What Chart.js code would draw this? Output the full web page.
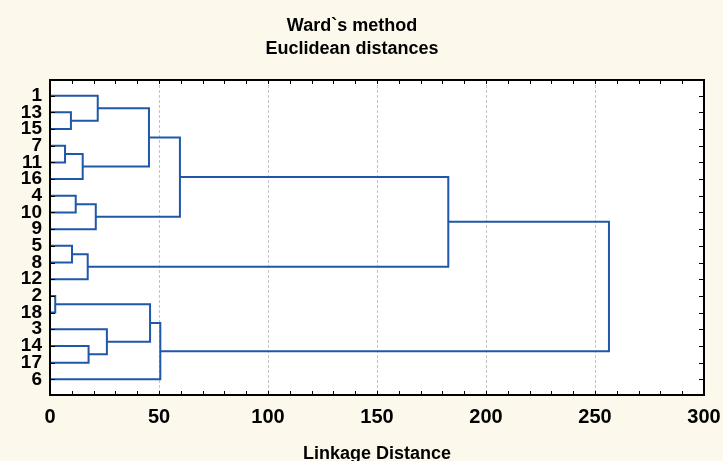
<!DOCTYPE html>
<html>
<head>
<meta charset="utf-8">
<script src="https://cdn.jsdelivr.net/npm/chart.js@4"></script>
<style>
  body { margin: 0; background: #fcf8ec; }
  canvas { display: block; }
</style>
</head>
<body>
<canvas id="tree" width="723" height="461"></canvas>
<script>
// DATA
// leaves, top to bottom
const leafLabels = ["1", "13", "15", "7", "11", "16", "4", "10", "9", "5", "8", "12", "2", "18", "3", "14", "17", "6"];

// merges: "#n" points to an earlier merge, anything else is a leaf
const mergeLeft   = ["13", "1",  "7",  "#2", "#1", "4",  "#5", "#4", "5",  "#8", "#7",  "2",  "14", "3",   "#11", "#14", "#10"];
const mergeRight  = ["15", "#0", "11", "16", "#3", "10", "9",  "#6", "8",  "12", "#9",  "18", "17", "#12", "#13", "6",   "#15"];
const mergeHeight = [9.6, 21.9, 6.9, 15.0, 45.4, 11.8, 21.0, 59.6, 10.1, 17.3, 182.7, 2.4, 17.7, 26.1, 45.9, 50.6, 256.4];

const xTicks = [0, 50, 100, 150, 200, 250, 300];

const LINE_COLOR = "#1f58a8";
const BOLD = "Arial, 'Liberation Sans', sans-serif";

// LAYOUT HELPERS
function nodePos(ref, placed) {
  if (ref.startsWith("#")) return placed[Number(ref.slice(1))];
  return { x: 0, y: leafLabels.indexOf(ref) };
}

function buildDatasets() {
  const placed = [];
  const sets = [];

  for (let i = 0; i < mergeHeight.length; i++) {
    const a = nodePos(mergeLeft[i], placed);
    const b = nodePos(mergeRight[i], placed);
    const h = mergeHeight[i];

    placed.push({ x: h, y: (a.y + b.y) / 2 });

    sets.push({
      data: [
        { x: a.x, y: a.y },
        { x: h, y: a.y },
        { x: h, y: b.y },
        { x: b.x, y: b.y }
      ],
      borderColor: LINE_COLOR,
      borderWidth: 2,
      pointRadius: 0,
      tension: 0,
      fill: false
    });
  }
  return sets;
}

// background, frame and inward ticks
const framePlugin = {
  id: "frame",
  beforeDraw(chart) {
    const { ctx, chartArea: a } = chart;
    ctx.save();
    ctx.fillStyle = "#fcf8ec";
    ctx.fillRect(0, 0, chart.width, chart.height);
    ctx.fillStyle = "#ffffff";
    ctx.fillRect(a.left, a.top, a.right - a.left, a.bottom - a.top);
    ctx.restore();
  },
  afterDraw(chart) {
    const { ctx, chartArea: a, scales } = chart;
    ctx.save();
    ctx.strokeStyle = "#000";
    ctx.lineWidth = 1;
    ctx.beginPath();
    for (let v = 10; v < 300; v += 10) {
      const px = Math.round(scales.x.getPixelForValue(v)) + 0.5;
      ctx.moveTo(px, a.bottom);
      ctx.lineTo(px, a.bottom - 4);
      ctx.moveTo(px, a.top);
      ctx.lineTo(px, a.top + 4);
    }
    leafLabels.forEach((_, i) => {
      const py = Math.round(scales.y.getPixelForValue(i)) + 0.5;
      ctx.moveTo(a.left, py);
      ctx.lineTo(a.left + 5, py);
      ctx.moveTo(a.right, py);
      ctx.lineTo(a.right - 5, py);
    });
    ctx.stroke();

    ctx.lineWidth = 2;
    ctx.strokeRect(a.left, a.top, a.right - a.left, a.bottom - a.top);
    ctx.restore();
  }
};

new Chart(document.getElementById("tree"), {
  type: "scatter",
  data: { datasets: buildDatasets() },
  options: {
    responsive: false,
    animation: false,
    showLine: true,
    layout: { padding: { left: 0, right: 19, top: 0, bottom: 0 } },
    plugins: {
      legend: { display: false },
      tooltip: { enabled: false },
      title: {
        display: true,
        text: ["Ward`s method", "Euclidean distances"],
        color: "#000",
        font: { family: BOLD, size: 18, weight: "bold", lineHeight: 1.25 },
        padding: { top: 15, bottom: 20 }
      }
    },
    scales: {
      x: {
        type: "linear",
        min: 0,
        max: 300,
        afterBuildTicks(scale) {
          scale.ticks = xTicks.map(v => ({ value: v }));
        },
        ticks: {
          color: "#000",
          padding: 10,
          maxRotation: 0,
          font: { family: BOLD, size: 20, weight: "bold" }
        },
        grid: {
          drawTicks: false,
          tickLength: 0,
          lineWidth: 1,
          color: c => (c.tick && c.tick.value > 0 && c.tick.value < 300) ? "#c4c4c4" : "rgba(0,0,0,0)"
        },
        border: { display: false, dash: [3, 2] },
        title: {
          display: true,
          text: "Linkage Distance",
          color: "#000",
          font: { family: BOLD, size: 18, weight: "bold", lineHeight: 0.8 },
          padding: { top: 0, bottom: 0 }
        },
        afterFit(scale) {
          scale.height = 66;
          scale.paddingLeft = 0;
          scale.paddingRight = 0;
        }
      },
      y: {
        type: "linear",
        reverse: true,
        min: -0.94,
        max: 17.94,
        afterBuildTicks(scale) {
          scale.ticks = leafLabels.map((_, i) => ({ value: i }));
        },
        ticks: {
          autoSkip: false,
          color: "#000",
          padding: 8,
          font: { family: BOLD, size: 19, weight: "bold" },
          callback: v => leafLabels[v]
        },
        grid: { display: false, drawTicks: false, tickLength: 0 },
        border: { display: false },
        afterFit(scale) { scale.width = 50; }
      }
    }
  },
  plugins: [framePlugin]
});
</script>
</body>
</html>
